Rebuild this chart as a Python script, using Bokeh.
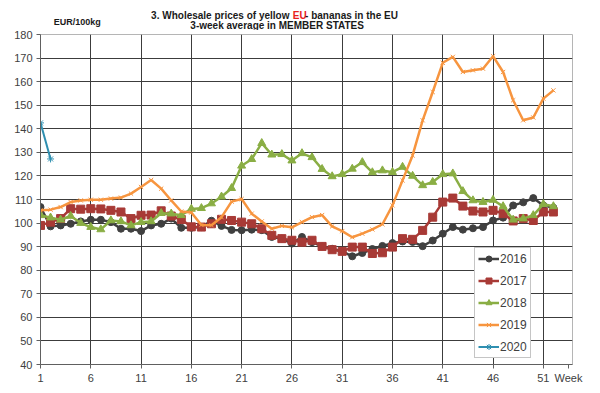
from bokeh.plotting import figure
from bokeh.models import Legend, LegendItem, FixedTicker
from bokeh.layouts import column
from bokeh.core.properties import value
from bokeh.embed import file_html
from bokeh.resources import INLINE

weeks = list(range(1, 53))
tick_weeks = [1, 6, 11, 16, 21, 26, 31, 36, 41, 46, 51]
week_title_tick = 53.5
y_ticks = [40, 50, 60, 70, 80, 90, 100, 110, 120, 130, 140, 150, 160, 170, 180]

s2016 = [106.8, 98.6, 99.0, 99.7, 100.7, 101.4, 101.4, 100.4, 97.6, 97.6, 96.6, 99.0, 99.7,
         101.9, 98.0, 98.0, 98.3, 101.0, 98.8, 97.1, 97.0, 97.2, 97.0, 94.1, 93.4, 91.3,
         94.1, 91.9, 90.1, 89.1, 88.0, 85.9, 87.3, 89.0, 90.3, 91.5, 92.2, 92.0, 90.2,
         92.6, 95.5, 98.3, 97.2, 97.8, 98.3, 101.1, 102.3, 107.5, 108.8, 110.6, 107.5, 106.5]
s2017 = [99.0, 100.4, 101.9, 106.1, 105.9, 106.1, 106.0, 105.4, 104.7, 101.9, 103.3, 103.4,
         105.2, 103.0, 101.5, 98.4, 98.3, 99.7, 101.6, 101.1, 100.4, 99.7, 97.6, 94.8, 93.4,
         92.7, 91.9, 92.7, 90.1, 88.7, 88.0, 89.8, 89.8, 87.1, 87.4, 89.8, 93.4, 93.1, 96.9,
         102.5, 108.9, 110.6, 107.2, 105.1, 104.7, 105.4, 104.0, 100.9, 101.9, 101.1, 104.7, 104.7]
s2018 = [103.3, 102.3, 101.4, 103.0, 100.0, 98.3, 97.3, 101.1, 100.7, 99.0, 100.4, 100.7,
         104.2, 104.0, 103.3, 106.0, 106.3, 108.3, 111.2, 114.8, 124.3, 127.1, 133.9, 129.0,
         129.2, 126.5, 129.6, 127.9, 122.9, 119.8, 120.7, 123.0, 125.8, 121.5, 122.3, 121.6,
         123.8, 120.0, 116.0, 117.4, 120.7, 121.0, 113.5, 109.6, 108.9, 109.8, 107.1, 101.4,
         101.9, 103.3, 108.0, 107.1]
s2019 = [105.4, 105.7, 106.8, 108.9, 109.6, 109.9, 109.9, 110.4, 110.8, 112.5, 115.3, 118.3,
         114.6, 109.6, 104.9, 104.5, 99.2, 99.1, 102.5, 109.1, 110.2, 104.0, 100.7, 97.6,
         98.8, 98.2, 100.4, 102.5, 103.4, 98.6, 96.6, 94.0, 95.5, 97.3, 99.5, 107.5, 118.1,
         128.7, 143.6, 155.6, 168.0, 170.5, 164.1, 164.8, 165.5, 170.8, 164.1, 152.1, 143.6,
         144.8, 152.8, 156.3]
weeks2020 = [1, 2]
s2020 = [142.5, 127.2]

FONT = "Liberation Sans"
W = 598

# ---- title band (own figure, text only) ----
TH = 30
t = figure(width=W, height=TH, x_range=(0, W), y_range=(0, TH),
           x_axis_type=None, y_axis_type=None, output_backend="svg",
           toolbar_location=None, min_border=0)
t.outline_line_color = None
t.background_fill_color = "white"
t.border_fill_color = "white"

def ttext(x, y, txt, size, color="#1a1a1a", align="left"):
    t.text(x=[x], y=[y], text=[txt], text_font=value(FONT), text_font_size=size,
           text_font_style="bold", text_color=color, text_align=align,
           text_baseline="middle")

ttext(283, TH - 14.5, "3. Wholesale prices of yellow ", "10px", align="right")
ttext(283.5, TH - 14.5, "EU", "10px", color="#e8201c")
ttext(297.4, TH - 14.5, "- bananas in the EU", "10px")
ttext(266, TH - 25, "3-week average in MEMBER STATES", "10px", align="center")
ttext(15, TH - 21.5, "EUR/100kg", "9px")

# ---- main chart ----
p = figure(width=W, height=361, x_range=(1, 53.9), y_range=(40, 180),
           output_backend="svg", toolbar_location=None,
           min_border_left=40, min_border_right=26, min_border_top=4, min_border_bottom=27)
p.background_fill_color = "white"
p.border_fill_color = "white"
p.outline_line_color = "#b5b5b5"
p.outline_line_width = 1

p.xaxis.ticker = FixedTicker(ticks=tick_weeks + [week_title_tick])
p.xaxis.major_label_overrides = {week_title_tick: "Week"}
p.yaxis.ticker = FixedTicker(ticks=y_ticks)
p.xgrid.ticker = FixedTicker(ticks=tick_weeks[1:])
p.ygrid.ticker = FixedTicker(ticks=y_ticks[1:-1])
for g in (p.xgrid, p.ygrid):
    g.grid_line_color = "#3c3c3c"
    g.grid_line_width = 1
for ax in (p.xaxis, p.yaxis):
    ax.axis_line_color = "#606060"
    ax.major_tick_line_color = "#606060"
    ax.major_tick_out = 4
    ax.major_tick_in = 0
    ax.minor_tick_line_color = None
    ax.major_label_text_font = FONT
    ax.major_label_text_font_size = "11px"
    ax.major_label_text_color = "#404040"
p.yaxis.major_label_standoff = 4
p.xaxis.major_label_standoff = 3

series = [
    ("2016", s2016, "#404040", "circle", 7, 2.5),
    ("2017", s2017, "#a83a36", "square", 8, 2.5),
    ("2018", s2018, "#8aae44", "triangle", 8, 2.5),
    ("2019", s2019, "#f7953f", "x", 6, 2.5),
]
items = []
for name, vals, col, mk, sz, lw in series:
    r1 = p.line(weeks, vals, line_color=col, line_width=lw)
    r2 = p.scatter(weeks, vals, marker=mk, size=sz, fill_color=col, line_color=col,
                   line_width=1)
    items.append(LegendItem(label=name, renderers=[r1, r2]))
r1 = p.line(weeks2020, s2020, line_color="#2f8fb0", line_width=2)
r2 = p.scatter(weeks2020, s2020, marker="asterisk", size=7, line_color="#2f8fb0", line_width=1)
items.append(LegendItem(label="2020", renderers=[r1, r2]))

legend = Legend(items=items, location=(434, 6))
legend.padding = 3
legend.spacing = 7
legend.margin = 0
legend.glyph_height = 15
legend.glyph_width = 21
legend.label_height = 15
legend.label_standoff = 1
legend.label_text_font = FONT
legend.label_text_font_size = "12px"
legend.label_text_color = "#404040"
legend.border_line_color = "#8c8c8c"
legend.border_line_width = 1
legend.background_fill_color = "white"
legend.background_fill_alpha = 1
p.add_layout(legend, "center")

layout = column(t, p, spacing=0)
open("out.html", "w").write(file_html(layout, INLINE))
